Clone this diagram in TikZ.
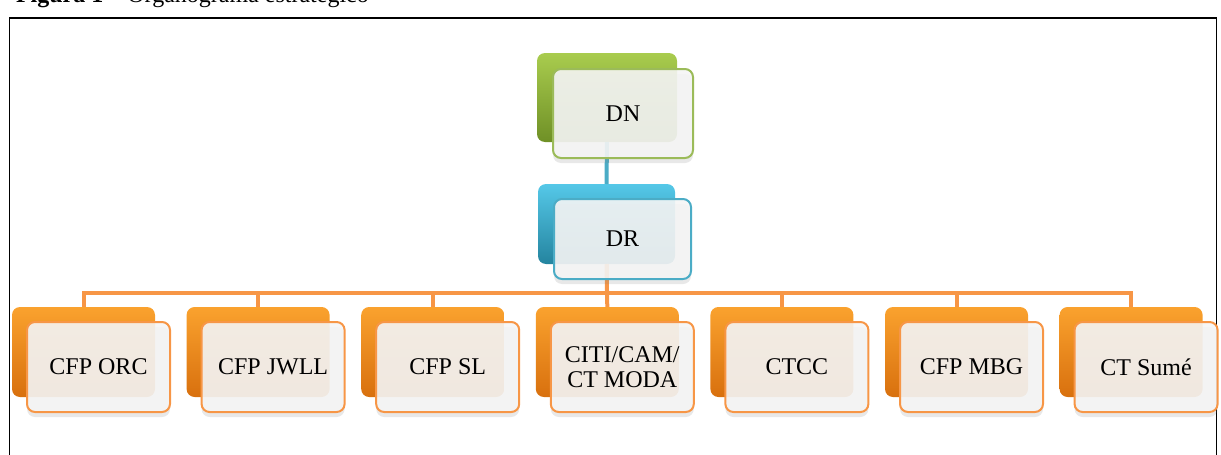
\documentclass[tikz,border=0pt]{standalone}
\usepackage{fontspec}
\setmainfont{Liberation Serif}
\usetikzlibrary{positioning,shadows}

\definecolor{greentop}{HTML}{A9CC4E}
\definecolor{greenmid}{HTML}{94B83A}
\definecolor{greenbot}{HTML}{6F9026}
\definecolor{greenline}{HTML}{9BBB59}
\definecolor{bluetop}{HTML}{55C8E8}
\definecolor{bluemid}{HTML}{36AFD4}
\definecolor{bluebot}{HTML}{24849F}
\definecolor{blueline}{HTML}{4BACC6}
\definecolor{orgtop}{HTML}{FAA22E}
\definecolor{orgmid}{HTML}{F5901C}
\definecolor{orgbot}{HTML}{D8700E}
\definecolor{orgline}{HTML}{F79646}

\begin{document}
\begin{tikzpicture}[x=0.5pt, y=-0.5pt, node distance=15.8pt,
    back/.style={rectangle, rounded corners=4pt, outer sep=0pt, minimum width=71.5pt, minimum height=45pt},
    front/.style={rectangle, rounded corners=4pt, line width=1pt, minimum width=71.5pt, minimum height=45pt,
        fill=white!96!black, fill opacity=0.9, text opacity=1, align=center,
        font=\fontsize{12}{12.5}\selectfont,
        drop shadow={opacity=0.18, shadow xshift=0pt, shadow yshift=-2.5pt}},
    orgback/.style={back, top color=orgtop, middle color=orgmid, bottom color=orgbot},
    orgfront/.style={front, draw=orgline, xshift=7.5pt, yshift=-7.5pt},
    orglink/.style={draw=orgline, line width=2pt},
    bluelink/.style={draw=blueline, line width=2pt}]

    \useasboundingbox (0,0) rectangle (1221,455);
    \node[anchor=base west, font=\fontsize{12}{14}\selectfont] (caption) at (9,3) {\textbf{Figura 1} -- Organograma estratégico};
    \draw[line width=0.9pt] (9.5,475) -- (9.5,18) -- (1216.5,18) -- (1216.5,475);

    \node[back, top color=greentop, middle color=greenmid, bottom color=greenbot, minimum width=70pt, minimum height=44.5pt] (dnback) at (607,97.5) {};
    \node[back, top color=bluetop, middle color=bluemid, bottom color=bluebot, minimum width=68.5pt, minimum height=40pt] (drback) at (606.5,224) {};
    \node[orgback] (orcback) at (83.5,352) {};
    \node[orgback, right=of orcback] (jwllback) {};
    \node[orgback, right=of jwllback] (slback) {};
    \node[orgback, right=of slback] (citiback) {};
    \node[orgback, right=of citiback] (ctccback) {};
    \node[orgback, right=of ctccback] (mbgback) {};
    \node[orgback, right=of mbgback] (sumeback) {};

    \draw[bluelink] (dnback) -- (drback);
    \draw[orglink] (drback.south) -- ++(0,29) -| (orcback.north);
    \draw[orglink] (drback.south) -- ++(0,29) -| (jwllback.north);
    \draw[orglink] (drback.south) -- ++(0,29) -| (slback.north);
    \draw[orglink] (drback.south) -- (citiback.north);
    \draw[orglink] (drback.south) -- ++(0,29) -| (ctccback.north);
    \draw[orglink] (drback.south) -- ++(0,29) -| (mbgback.north);
    \draw[orglink] (drback.south) -- ++(0,29) -| (sumeback.north);

    \node[front, draw=greenline, minimum width=70pt, minimum height=44.5pt, xshift=8pt, yshift=-8pt] (dn) at (dnback) {DN};
    \node[front, draw=blueline, minimum width=68.5pt, minimum height=40pt, xshift=8pt, yshift=-7.5pt] (dr) at (drback) {DR};
    \node[orgfront] (orc) at (orcback) {CFP ORC};
    \node[orgfront] (jwll) at (jwllback) {CFP JWLL};
    \node[orgfront] (sl) at (slback) {CFP SL};
    \node[orgfront] (citi) at (citiback) {CITI/CAM/\\CT MODA};
    \node[orgfront] (ctcc) at (ctccback) {CTCC};
    \node[orgfront] (mbg) at (mbgback) {CFP MBG};
    \node[orgfront] (sume) at (sumeback) {CT Sumé};
\end{tikzpicture}
\end{document}
